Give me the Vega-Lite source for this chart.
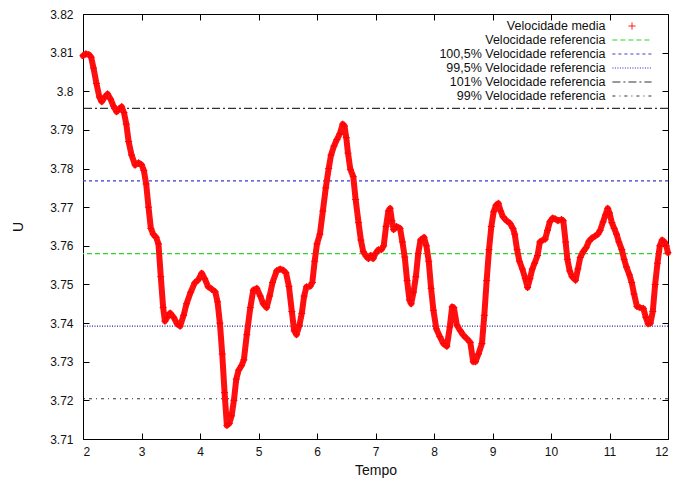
{
  "$schema": "https://vega.github.io/schema/vega-lite/v6.json",
  "width": 585,
  "height": 425,
  "autosize": {"type": "none"},
  "padding": {"left": 83, "top": 14, "right": 8, "bottom": 49},
  "background": "white",
  "config": {
    "font": "Liberation Sans",
    "view": {"stroke": "#000", "strokeWidth": 1},
    "axis": {
      "domain": false,
      "grid": false,
      "tickColor": "#000",
      "tickSize": -6,
      "labelFontSize": 12,
      "labelColor": "#111",
      "labelFont": "Liberation Sans",
      "titleFont": "Liberation Sans",
      "titleFontSize": 14,
      "titleFontWeight": "normal",
      "titleColor": "#111"
    },
    "legend": {
      "orient": "none",
      "legendX": 541.5,
      "legendY": 4.5,
      "padding": 0,
      "labelAlign": "right",
      "labelOffset": -34,
      "labelFontSize": 12.5,
      "labelColor": "#111",
      "labelLimit": 400,
      "symbolSize": 196,
      "symbolStrokeWidth": 1,
      "rowPadding": 0
    }
  },
  "datasets": {
    "media": [
      {"t": 2.00, "u": 3.8092}, {"t": 2.05, "u": 3.8097}, {"t": 2.10, "u": 3.8095}, {"t": 2.14, "u": 3.8088},
      {"t": 2.18, "u": 3.8060}, {"t": 2.23, "u": 3.8020}, {"t": 2.28, "u": 3.7985}, {"t": 2.32, "u": 3.7973},
      {"t": 2.37, "u": 3.7985}, {"t": 2.42, "u": 3.7993}, {"t": 2.47, "u": 3.7980}, {"t": 2.52, "u": 3.7962},
      {"t": 2.575, "u": 3.7947}, {"t": 2.62, "u": 3.7955}, {"t": 2.66, "u": 3.7960}, {"t": 2.70, "u": 3.7945},
      {"t": 2.74, "u": 3.7915}, {"t": 2.78, "u": 3.7870}, {"t": 2.83, "u": 3.7835}, {"t": 2.89, "u": 3.7809},
      {"t": 2.95, "u": 3.7815}, {"t": 3.00, "u": 3.7810}, {"t": 3.04, "u": 3.7795}, {"t": 3.08, "u": 3.7760},
      {"t": 3.12, "u": 3.7700}, {"t": 3.16, "u": 3.7645}, {"t": 3.20, "u": 3.7630}, {"t": 3.25, "u": 3.7622},
      {"t": 3.29, "u": 3.7605}, {"t": 3.33, "u": 3.7520}, {"t": 3.37, "u": 3.7440}, {"t": 3.40, "u": 3.7405},
      {"t": 3.44, "u": 3.7415}, {"t": 3.49, "u": 3.7426}, {"t": 3.55, "u": 3.7415}, {"t": 3.61, "u": 3.7398},
      {"t": 3.66, "u": 3.7392}, {"t": 3.72, "u": 3.7420}, {"t": 3.77, "u": 3.7450}, {"t": 3.84, "u": 3.7480},
      {"t": 3.91, "u": 3.7504}, {"t": 3.97, "u": 3.7512}, {"t": 4.03, "u": 3.7529}, {"t": 4.08, "u": 3.7515},
      {"t": 4.14, "u": 3.7494}, {"t": 4.20, "u": 3.7488}, {"t": 4.26, "u": 3.7481}, {"t": 4.30, "u": 3.7455},
      {"t": 4.34, "u": 3.7400}, {"t": 4.38, "u": 3.7320}, {"t": 4.42, "u": 3.7220}, {"t": 4.46, "u": 3.7135},
      {"t": 4.50, "u": 3.7140}, {"t": 4.54, "u": 3.7160}, {"t": 4.58, "u": 3.7200}, {"t": 4.62, "u": 3.7255},
      {"t": 4.66, "u": 3.7278}, {"t": 4.71, "u": 3.7290}, {"t": 4.75, "u": 3.7305}, {"t": 4.80, "u": 3.7370},
      {"t": 4.86, "u": 3.7440}, {"t": 4.91, "u": 3.7485}, {"t": 4.97, "u": 3.7490}, {"t": 5.03, "u": 3.7470},
      {"t": 5.08, "u": 3.7450}, {"t": 5.14, "u": 3.7440}, {"t": 5.19, "u": 3.7470}, {"t": 5.24, "u": 3.7505},
      {"t": 5.31, "u": 3.7535}, {"t": 5.37, "u": 3.7540}, {"t": 5.42, "u": 3.7537}, {"t": 5.47, "u": 3.7530},
      {"t": 5.52, "u": 3.7495}, {"t": 5.57, "u": 3.7430}, {"t": 5.61, "u": 3.7380}, {"t": 5.65, "u": 3.7370},
      {"t": 5.70, "u": 3.7395}, {"t": 5.74, "u": 3.7425}, {"t": 5.78, "u": 3.7470}, {"t": 5.82, "u": 3.7494},
      {"t": 5.88, "u": 3.7495}, {"t": 5.92, "u": 3.7505}, {"t": 5.96, "u": 3.7560}, {"t": 6.00, "u": 3.7605},
      {"t": 6.05, "u": 3.7630}, {"t": 6.10, "u": 3.7690}, {"t": 6.15, "u": 3.7750}, {"t": 6.20, "u": 3.7800},
      {"t": 6.24, "u": 3.7835}, {"t": 6.29, "u": 3.7858}, {"t": 6.34, "u": 3.7875}, {"t": 6.39, "u": 3.7890},
      {"t": 6.44, "u": 3.7915}, {"t": 6.47, "u": 3.7910}, {"t": 6.50, "u": 3.7880}, {"t": 6.53, "u": 3.7840},
      {"t": 6.57, "u": 3.7798}, {"t": 6.62, "u": 3.7779}, {"t": 6.66, "u": 3.7720}, {"t": 6.71, "u": 3.7660},
      {"t": 6.75, "u": 3.7615}, {"t": 6.79, "u": 3.7585}, {"t": 6.84, "u": 3.7573}, {"t": 6.88, "u": 3.7567},
      {"t": 6.92, "u": 3.7575}, {"t": 6.96, "u": 3.7567}, {"t": 7.00, "u": 3.7580}, {"t": 7.05, "u": 3.7590},
      {"t": 7.10, "u": 3.7590}, {"t": 7.14, "u": 3.7600}, {"t": 7.18, "u": 3.7650}, {"t": 7.22, "u": 3.7690},
      {"t": 7.25, "u": 3.7697}, {"t": 7.28, "u": 3.7665}, {"t": 7.31, "u": 3.7642}, {"t": 7.36, "u": 3.7650},
      {"t": 7.42, "u": 3.7645}, {"t": 7.46, "u": 3.7610}, {"t": 7.50, "u": 3.7571}, {"t": 7.54, "u": 3.7510},
      {"t": 7.58, "u": 3.7460}, {"t": 7.61, "u": 3.7450}, {"t": 7.65, "u": 3.7480}, {"t": 7.69, "u": 3.7520},
      {"t": 7.73, "u": 3.7580}, {"t": 7.77, "u": 3.7615}, {"t": 7.83, "u": 3.7622}, {"t": 7.87, "u": 3.7600},
      {"t": 7.91, "u": 3.7560}, {"t": 7.95, "u": 3.7490}, {"t": 7.99, "u": 3.7433}, {"t": 8.04, "u": 3.7385},
      {"t": 8.10, "u": 3.7365}, {"t": 8.16, "u": 3.7347}, {"t": 8.22, "u": 3.7340}, {"t": 8.27, "u": 3.7390},
      {"t": 8.31, "u": 3.7442}, {"t": 8.34, "u": 3.7440}, {"t": 8.39, "u": 3.7395}, {"t": 8.45, "u": 3.7380},
      {"t": 8.50, "u": 3.7369}, {"t": 8.56, "u": 3.7360}, {"t": 8.62, "u": 3.7350}, {"t": 8.67, "u": 3.7300},
      {"t": 8.71, "u": 3.7300}, {"t": 8.76, "u": 3.7320}, {"t": 8.82, "u": 3.7347}, {"t": 8.86, "u": 3.7420},
      {"t": 8.90, "u": 3.7510}, {"t": 8.94, "u": 3.7590}, {"t": 8.98, "u": 3.7650}, {"t": 9.02, "u": 3.7688},
      {"t": 9.06, "u": 3.7705}, {"t": 9.10, "u": 3.7710}, {"t": 9.14, "u": 3.7690}, {"t": 9.18, "u": 3.7675},
      {"t": 9.24, "u": 3.7665}, {"t": 9.30, "u": 3.7658}, {"t": 9.35, "u": 3.7645}, {"t": 9.38, "u": 3.7630},
      {"t": 9.42, "u": 3.7590}, {"t": 9.46, "u": 3.7560}, {"t": 9.51, "u": 3.7540}, {"t": 9.56, "u": 3.7515},
      {"t": 9.60, "u": 3.7492}, {"t": 9.64, "u": 3.7515}, {"t": 9.68, "u": 3.7540}, {"t": 9.72, "u": 3.7555},
      {"t": 9.77, "u": 3.7575}, {"t": 9.81, "u": 3.7610}, {"t": 9.86, "u": 3.7615}, {"t": 9.90, "u": 3.7617},
      {"t": 9.94, "u": 3.7640}, {"t": 9.98, "u": 3.7662}, {"t": 10.03, "u": 3.7672}, {"t": 10.07, "u": 3.7670},
      {"t": 10.12, "u": 3.7665}, {"t": 10.18, "u": 3.7668}, {"t": 10.21, "u": 3.7665}, {"t": 10.25, "u": 3.7610},
      {"t": 10.28, "u": 3.7565}, {"t": 10.32, "u": 3.7535}, {"t": 10.36, "u": 3.7520}, {"t": 10.42, "u": 3.7511},
      {"t": 10.46, "u": 3.7540}, {"t": 10.50, "u": 3.7570}, {"t": 10.55, "u": 3.7585}, {"t": 10.60, "u": 3.7595},
      {"t": 10.65, "u": 3.7612}, {"t": 10.70, "u": 3.7620}, {"t": 10.75, "u": 3.7625}, {"t": 10.80, "u": 3.7630},
      {"t": 10.84, "u": 3.7640}, {"t": 10.89, "u": 3.7662}, {"t": 10.93, "u": 3.7680}, {"t": 10.97, "u": 3.7697},
      {"t": 11.00, "u": 3.7685}, {"t": 11.04, "u": 3.7660}, {"t": 11.08, "u": 3.7645}, {"t": 11.12, "u": 3.7630},
      {"t": 11.16, "u": 3.7610}, {"t": 11.21, "u": 3.7590}, {"t": 11.25, "u": 3.7565}, {"t": 11.29, "u": 3.7545},
      {"t": 11.34, "u": 3.7525}, {"t": 11.38, "u": 3.7505}, {"t": 11.42, "u": 3.7475}, {"t": 11.47, "u": 3.7443},
      {"t": 11.52, "u": 3.7440}, {"t": 11.58, "u": 3.7438}, {"t": 11.62, "u": 3.7415}, {"t": 11.66, "u": 3.7398},
      {"t": 11.70, "u": 3.7400}, {"t": 11.74, "u": 3.7430}, {"t": 11.78, "u": 3.7500}, {"t": 11.82, "u": 3.7555},
      {"t": 11.86, "u": 3.7600}, {"t": 11.90, "u": 3.7615}, {"t": 11.94, "u": 3.7610}, {"t": 11.97, "u": 3.7600},
      {"t": 12.00, "u": 3.7582}
    ],
    "refs": [
      {"serie": "Velocidade referencia", "u": 3.758},
      {"serie": "100,5% Velocidade referencia", "u": 3.77679},
      {"serie": "99,5% Velocidade referencia", "u": 3.73921},
      {"serie": "101% Velocidade referencia", "u": 3.79558},
      {"serie": "99% Velocidade referencia", "u": 3.72042}
    ]
  },
  "layer": [
    {
      "data": {"name": "refs"},
      "mark": {"type": "rule", "strokeWidth": 1.2},
      "encoding": {
        "y": {"field": "u", "type": "quantitative", "scale": {"domain": [3.71, 3.82], "zero": false, "nice": false}, "axis": null},
        "color": {
          "field": "serie", "type": "nominal",
          "scale": {
            "domain": ["Velocidade media", "Velocidade referencia", "100,5% Velocidade referencia", "99,5% Velocidade referencia", "101% Velocidade referencia", "99% Velocidade referencia"],
            "range": ["#ff0000", "#2ad62a", "#3b3bd6", "#2424a8", "#333333", "#333333"]
          },
          "legend": {
            "title": null,
            "encode": {
              "symbols": {
                "update": {
                  "stroke": {"signal": "datum.value === 'Velocidade media' ? '#ff0000' : datum.value === 'Velocidade referencia' ? '#2ad62a' : indexof(datum.value, '5%') >= 0 ? '#3b3bd6' : '#333333'"},
                  "shape": {"signal": "datum.value === 'Velocidade media' ? 'M-0.5,0H0.5M0,-0.5V0.5' : 'M-2.8,0H2.8'"},
                  "strokeDash": {"signal": "datum.value === 'Velocidade media' ? [1, 0] : datum.value === 'Velocidade referencia' ? [5, 3] : datum.value === '100,5% Velocidade referencia' ? [3, 3] : datum.value === '99,5% Velocidade referencia' ? [1, 1.5] : datum.value === '101% Velocidade referencia' ? [8, 3, 2, 3] : [3, 4, 1, 4]"},
                  "fill": {"value": "transparent"},
                  "strokeWidth": {"value": 1}
                }
              }
            }
          }
        },
        "strokeDash": {
          "field": "serie", "type": "nominal",
          "scale": {
            "domain": ["Velocidade media", "Velocidade referencia", "100,5% Velocidade referencia", "99,5% Velocidade referencia", "101% Velocidade referencia", "99% Velocidade referencia"],
            "range": [[1, 0], [5, 3], [3, 3], [1, 1.5], [8, 3, 2, 3], [3, 4, 1, 4]]
          },
          "legend": null
        }
      }
    },
    {
      "data": {"name": "media"},
      "mark": {"type": "line", "color": "#ff1010", "strokeWidth": 6, "strokeJoin": "round", "strokeCap": "round"},
      "encoding": {
        "x": {
          "field": "t", "type": "quantitative",
          "scale": {"domain": [2, 12], "nice": false, "zero": false},
          "axis": {"orient": "bottom", "values": [2, 3, 4, 5, 6, 7, 8, 9, 10, 11, 12], "format": "d", "labelPadding": 13, "title": "Tempo", "titlePadding": 6}
        },
        "y": {
          "field": "u", "type": "quantitative",
          "scale": {"domain": [3.71, 3.82], "zero": false, "nice": false},
          "axis": {"orient": "left", "values": [3.71, 3.72, 3.73, 3.74, 3.75, 3.76, 3.77, 3.78, 3.79, 3.8, 3.81, 3.82], "format": "~g", "labelPadding": 16, "title": "U", "titlePadding": 24}
        }
      }
    },
    {
      "data": {"name": "media"},
      "mark": {"type": "point", "filled": false, "color": "#ff0000", "shape": "M-0.5,0H0.5M0,-0.5V0.5", "strokeWidth": 1, "size": 196, "opacity": 1},
      "encoding": {
        "x": {
          "field": "t", "type": "quantitative",
          "scale": {"domain": [2, 12], "nice": false, "zero": false},
          "axis": {"orient": "top", "values": [2, 3, 4, 5, 6, 7, 8, 9, 10, 11, 12], "labels": false, "title": null}
        },
        "y": {
          "field": "u", "type": "quantitative",
          "scale": {"domain": [3.71, 3.82], "zero": false, "nice": false},
          "axis": {"orient": "right", "values": [3.71, 3.72, 3.73, 3.74, 3.75, 3.76, 3.77, 3.78, 3.79, 3.8, 3.81, 3.82], "labels": false, "title": null}
        }
      }
    }
  ],
  "resolve": {"scale": {"x": "independent", "y": "independent"}}
}
